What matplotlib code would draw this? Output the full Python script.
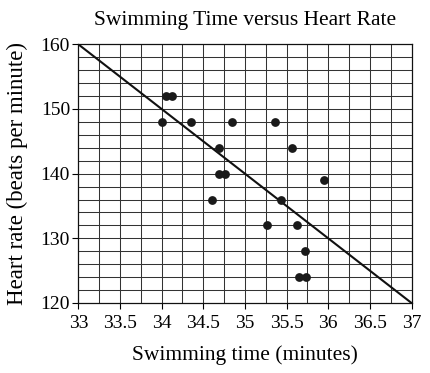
import numpy as np
import matplotlib
matplotlib.use("Agg")
from matplotlib import pyplot as plt

# swimming time (minutes) and heart rate (beats per minute)
tempo = [34.05, 34.13, 34.0, 34.35, 34.85, 35.36, 34.69, 35.57,
         34.69, 34.76, 35.95, 34.6, 35.43, 35.27, 35.62, 35.72,
         35.65, 35.73]
batimento = [152, 152, 148, 148, 148, 148, 144, 144,
             140, 140, 139, 136, 136, 132, 132, 128,
             124, 124]

# line of best fit
reta_x = [33, 37]
reta_y = [160, 120]

xticks = [33, 33.5, 34, 34.5, 35, 35.5, 36, 36.5, 37]
xlabels = ["33", "33.5", "34", "34.5", "35", "35.5", "36", "36.5", "37"]
yticks = [120, 130, 140, 150, 160]

plt.rcParams['font.family'] = ['Liberation Serif', 'DejaVu Serif']

fig = plt.figure(figsize=(4.31, 3.73), dpi=100)
ax = fig.add_axes([0.1817, 0.1877, 0.7731, 0.6935])

ax.set_xlim(33, 37)
ax.set_ylim(120, 160)

# grade
for v in np.arange(33.25, 37, 0.25):
    ax.axvline(v, color='#333333', lw=0.75, zorder=1)
for h in np.arange(122, 160, 2):
    ax.axhline(h, color='#333333', lw=0.75, zorder=1)

ax.plot(reta_x, reta_y, '-', color='#111111', lw=1.5, zorder=2)
ax.scatter(tempo, batimento, s=40, color='#1a1a1a', zorder=3, linewidths=0)

ax.set_xticks(xticks)
ax.set_xticklabels(xlabels)
ax.set_yticks(yticks)
ax.tick_params(direction='out', length=4, width=0.8, labelsize=14)
ax.tick_params(axis='x', pad=5)
ax.tick_params(axis='y', pad=2)
for s in ax.spines.values():
    s.set_linewidth(0.9)
    s.set_color('#111111')

ax.set_title("Swimming Time versus Heart Rate", fontsize=15.5, pad=14)
ax.set_xlabel("Swimming time (minutes)", fontsize=15.5, labelpad=9)
ax.set_ylabel("Heart rate (beats per minute)", fontsize=16.5, labelpad=9)

fig.savefig("out.png", dpi=100)
